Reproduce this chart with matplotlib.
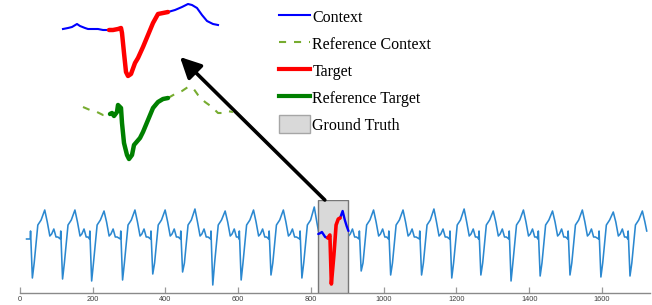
import matplotlib
matplotlib.use('Agg')
import matplotlib.pyplot as plt
from matplotlib.lines import Line2D
from matplotlib.patches import Patch

# --- full ECG trace: one beat shape, placed at each trough
beat_t = [-6, -5, 0, 5, 15, 24, 34, 41, 48, 53, 59, 65, 70]
beat_v = [0, 8, None, -24, 14, 19, None, 17, 3, 5, 10, 2, 2]
trough_t = [34, 117, 197, 282, 365, 447, 530, 608, 690, 775, 855,
            938, 1019, 1104, 1187, 1267, 1350, 1430, 1512, 1597, 1677]
trough_v = [-39, -40, -42, -41, -35, -33, -46, -41, -36, -39, -45,
            -32, -36, -36, -39, -36, -42, -37, -36, -38, -37]
peak_v = [29, 29, 28, 29, 29, 30, 28, 29, 29, 32, 27,
          29, 29, 30, 30, 28, 29, 28, 29, 27, 28]
trace_start = (18, 0)
trace_end = (1723, 8)

# ground truth window and the highlighted segment inside it
gt_window = (820, 903)
ctx_a_t = [820, 826, 830, 839, 846]
ctx_a_v = [5, 6, 7, 2, 1]
tgt_t = [846, 850, 852, 856, 863, 869, 875, 880]
tgt_v = [1, 3, 4, -45, -16, 14, 20, 21]
ctx_b_t = [880, 883, 887, 893, 898, 903]
ctx_b_v = [21, 24, 28, 19, 13, 8]

# --- zoomed query (top) and reference (below it)
zc1_t = [0, 5, 9, 14, 17, 22, 25, 30, 35, 40, 46]
zc1_v = [0, 1, 2, 5, 3, 1, 0, 0, 0, -1, -1]
zt_t = [46, 50, 55, 58, 59, 61, 63, 65, 68, 72, 75, 80, 85, 90, 95, 100, 105]
zt_v = [-1, -1, 0, 1, -4, -24, -43, -47, -45, -34, -29, -18, -6, 6, 15, 16, 17]
zc2_t = [105, 112, 119, 125, 129, 134, 139, 144, 150, 155]
zc2_v = [17, 19, 22, 25, 24, 21, 14, 8, 5, 4]

rc1_t = [20, 27, 34, 40, 47]
rc1_v = [6, 3, 1, -2, -2]
rt_t = [47, 49, 51, 54, 55, 58, 59, 61, 64, 66, 69, 71, 77, 80, 85, 90, 95, 100, 105]
rt_v = [-1, 0, -3, 1, 8, 5, -10, -30, -42, -46, -42, -32, -25, -19, -7, 5, 11, 14, 15]
rc2_t = [105, 112, 119, 125, 130, 135, 142, 149, 155, 159, 164, 170]
rc2_v = [15, 19, 22, 26, 25, 18, 11, 6, 0, 0, 2, 1]

xticks = [0, 200, 400, 600, 800, 1000, 1200, 1400, 1600]

C_SIG = '#2b88d0'
C_CTX = '#0000ff'
C_TGT = '#ff0000'
C_RCTX = '#77ac30'
C_RTGT = '#008000'
DASH = (0, (3.4, 3.8))

W, H = 652, 305
fig = plt.figure(figsize=(W / 100, H / 100), dpi=100)


def px_axes(left, top, width, height):
    return fig.add_axes([left / W, 1 - (top + height) / H, width / W, height / H])


# build the long trace
sig_t = [trace_start[0]]
sig_v = [trace_start[1]]
for tt, tv, pv in zip(trough_t, trough_v, peak_v):
    for dt, v in zip(beat_t, beat_v):
        if tt + dt > trace_end[0]:
            break
        sig_t.append(tt + dt)
        sig_v.append(tv if dt == 0 else pv if dt == 34 else v)
sig_t.append(trace_end[0])
sig_v.append(trace_end[1])

ax = px_axes(20, 200, 630, 93)
ax.plot(sig_t, sig_v, color=C_SIG, lw=1.15, zorder=2)
ax.axvspan(*gt_window, facecolor='#d9d9d9', edgecolor='#777777', lw=1.0, zorder=3)
ax.plot(ctx_a_t, ctx_a_v, color=C_CTX, lw=1.7, zorder=4, solid_capstyle='round')
ax.plot(ctx_b_t, ctx_b_v, color=C_CTX, lw=1.7, zorder=4, solid_capstyle='round')
ax.plot(tgt_t, tgt_v, color=C_TGT, lw=2.6, zorder=5, solid_capstyle='round')
ax.set_xlim(0, 1732)
ax.set_ylim(-54, 39)
for s in ['top', 'right', 'left']:
    ax.spines[s].set_visible(False)
ax.spines['bottom'].set_color('#8a8a8a')
ax.spines['bottom'].set_linewidth(1.0)
ax.set_yticks([])
ax.set_xticks(xticks)
ax.tick_params(axis='x', direction='in', length=4.3, width=0.9, color='#999999',
               labelsize=5.3, labelcolor='#404040', pad=2)
for lab in ax.get_xticklabels():
    lab.set_family('Liberation Sans')
ax.patch.set_alpha(0)

# zoomed query
axz = px_axes(55, 0, 185, 90)
axz.plot(zc1_t, zc1_v, color=C_CTX, lw=1.5, clip_on=False)
axz.plot(zc2_t, zc2_v, color=C_CTX, lw=1.5, clip_on=False)
axz.plot(zt_t, zt_v, color=C_TGT, lw=3.2, clip_on=False, solid_capstyle='round')
axz.set_xlim(-8, 177)
axz.set_ylim(-61, 29)
axz.axis('off')

# zoomed reference
axr = px_axes(55, 75, 185, 90)
axr.plot(rc1_t, rc1_v, color=C_RCTX, lw=1.5, ls=DASH, clip_on=False)
axr.plot(rc2_t, rc2_v, color=C_RCTX, lw=1.5, ls=DASH, clip_on=False)
axr.plot(rt_t, rt_v, color=C_RTGT, lw=3.2, clip_on=False, solid_capstyle='round')
axr.set_xlim(-8, 177)
axr.set_ylim(-52, 38)
axr.axis('off')

# arrow from the ground truth box up to the zoomed view
ax.annotate('', xy=(180 / W, 1 - 57 / H), xycoords='figure fraction',
            xytext=(838, 39), textcoords='data',
            arrowprops=dict(arrowstyle='-|>,head_length=0.7,head_width=0.35',
                            lw=2.6, color='black', shrinkA=0, shrinkB=0,
                            mutation_scale=18),
            annotation_clip=False, zorder=10)

handles = [
    Line2D([], [], color=C_CTX, lw=1.5),
    Line2D([], [], color=C_RCTX, lw=1.5, ls=DASH),
    Line2D([], [], color=C_TGT, lw=3),
    Line2D([], [], color=C_RTGT, lw=3),
    Patch(facecolor='#d9d9d9', edgecolor='#a6a6a6', lw=1),
]
labels = ['Context', 'Reference Context', 'Target', 'Reference Target', 'Ground Truth']
fig.legend(handles, labels, loc='upper left', bbox_to_anchor=(279 / W, 1 - 7.5 / H),
           frameon=False, borderpad=0, borderaxespad=0, handlelength=1.94,
           handleheight=1.3, handletextpad=0.15, labelspacing=0.56,
           prop={'family': 'Liberation Serif', 'size': 11.5})

fig.savefig('out.png', dpi=100)
